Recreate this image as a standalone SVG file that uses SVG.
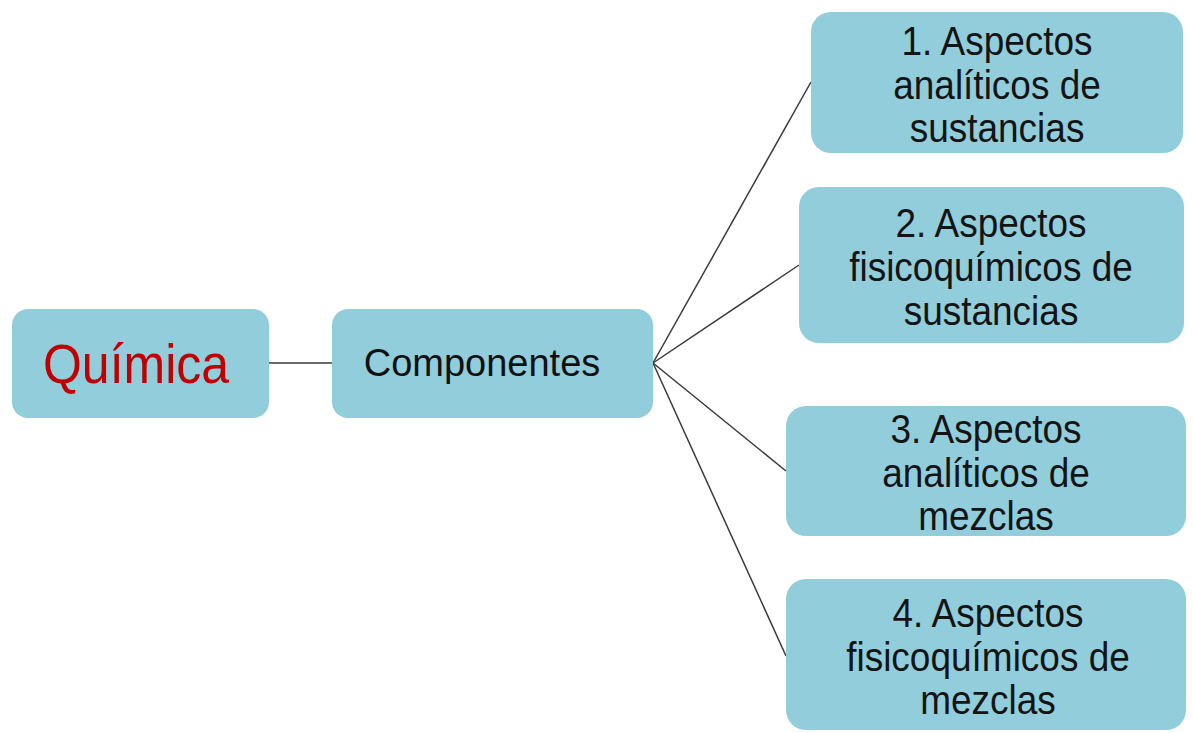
<svg xmlns="http://www.w3.org/2000/svg" width="1193" height="733" viewBox="0 0 1193 733">
<style>
.box{fill:#92CDDC;}
.t{font-family:"Liberation Sans",Arial,sans-serif;font-size:37px;fill:#141414;text-anchor:middle;}
.conn{stroke:#3a3a3a;stroke-width:1.5;fill:none;}
</style>
<rect width="1193" height="733" fill="#fff"/>
<g id="connectors">
<line class="conn" x1="269" y1="363" x2="332" y2="363"/>
<line class="conn" x1="653" y1="363" x2="811" y2="82"/>
<line class="conn" x1="653" y1="363" x2="799" y2="265"/>
<line class="conn" x1="653" y1="363" x2="786" y2="471"/>
<line class="conn" x1="653" y1="363" x2="786" y2="656"/>
</g>
<g id="quimica">
<rect class="box" x="12" y="309" width="257" height="109" rx="16"/>
<text transform="translate(136,383) scale(1,1.1)" style="font-family:'Liberation Sans',Arial,sans-serif;font-size:50px;fill:#C00000;text-anchor:middle">Química</text>
</g>
<g id="componentes">
<rect class="box" x="332" y="309" width="321" height="109" rx="16"/>
<text x="482" y="376" style="font-family:'Liberation Sans',Arial,sans-serif;font-size:38px;fill:#111;text-anchor:middle">Componentes</text>
</g>
<g id="n1">
<rect class="box" x="811" y="12" width="372" height="141" rx="20"/>
<text class="t" transform="translate(997,55) scale(1,1.12)">1. Aspectos</text>
<text class="t" transform="translate(997,99) scale(1,1.12)">analíticos de</text>
<text class="t" transform="translate(997,142) scale(1,1.12)">sustancias</text>
</g>
<g id="n2">
<rect class="box" x="799" y="187" width="385" height="156" rx="20"/>
<text class="t" transform="translate(991,237) scale(1,1.12)">2. Aspectos</text>
<text class="t" transform="translate(991,281) scale(1,1.12)">fisicoquímicos de</text>
<text class="t" transform="translate(991,325) scale(1,1.12)">sustancias</text>
</g>
<g id="n3">
<rect class="box" x="786" y="406" width="400" height="130" rx="20"/>
<text class="t" transform="translate(986,443) scale(1,1.12)">3. Aspectos</text>
<text class="t" transform="translate(986,487) scale(1,1.12)">analíticos de</text>
<text class="t" transform="translate(986,530) scale(1,1.12)">mezclas</text>
</g>
<g id="n4">
<rect class="box" x="786" y="579" width="400" height="151" rx="20"/>
<text class="t" transform="translate(988,627) scale(1,1.12)">4. Aspectos</text>
<text class="t" transform="translate(988,671) scale(1,1.12)">fisicoquímicos de</text>
<text class="t" transform="translate(988,714) scale(1,1.12)">mezclas</text>
</g>
</svg>
